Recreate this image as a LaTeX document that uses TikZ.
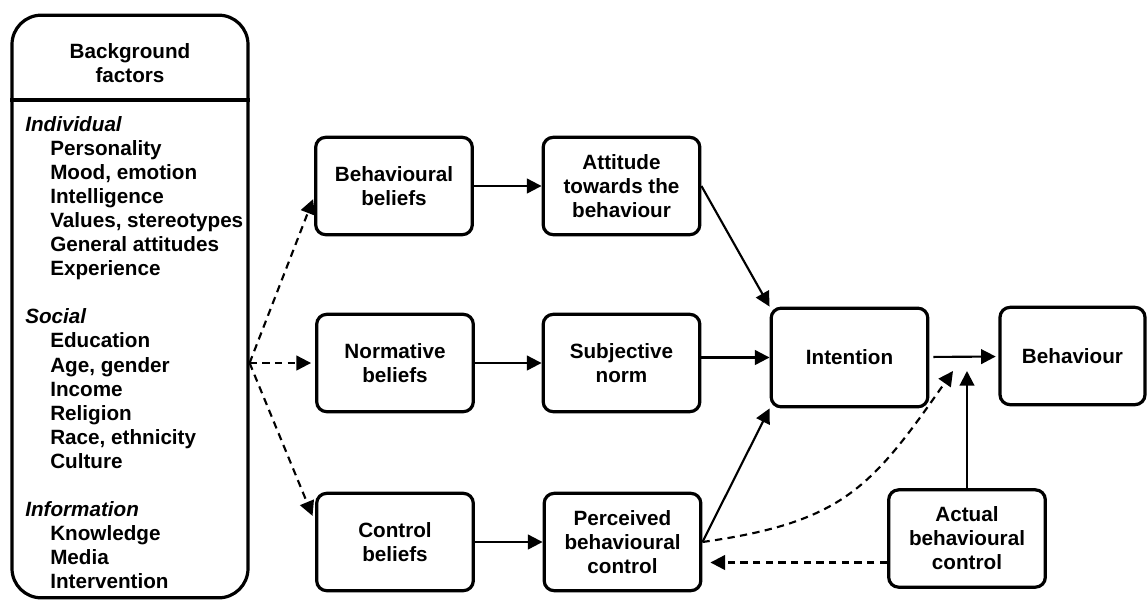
\documentclass[tikz,border=0pt]{standalone}
\usepackage{fontspec}
\setmainfont{Liberation Sans}
\usetikzlibrary{arrows.meta}

\tikzset{
  box/.style={draw, line width=2.4pt, rounded corners=7.5pt, align=center,
              minimum width=117.5pt, minimum height=73pt, inner sep=2pt},
  listtext/.style={anchor=base west, inner sep=0pt},
  link/.style={line width=1.6pt, -{Triangle[length=11pt,width=11pt]}},
  maybe/.style={link, dash pattern=on 5.5pt off 4pt},
}

\begin{document}
\begin{tikzpicture}[x=0.75pt, y=-0.75pt,
        font=\fontsize{15.5}{18}\selectfont\bfseries,
    ]
    \useasboundingbox (0,0) rectangle (1147,601);

    % background factors
    \node[draw, line width=2.4pt, rounded corners=22pt, minimum width=177pt,
          minimum height=437pt] (bg) at (130,306.5) {};
    \node[align=center] (hd) at (130,63) {Background\\factors};
    \coordinate (div) at (130,100);
    \draw[line width=2.4pt] (bg.west |- div) -- (bg.east |- div);

    \node[listtext] (grp1) at (25,131) {\textit{Individual}};
    \node[listtext] (grp2) at (25,{131+24.1*8}) {\textit{Social}};
    \node[listtext] (grp3) at (25,{131+24.1*16}) {\textit{Information}};
    \foreach \k/\t in {1/Personality, 2/{Mood, emotion}, 3/Intelligence,
        4/{Values, stereotypes}, 5/General attitudes, 6/Experience,
        9/Education, 10/{Age, gender}, 11/Income, 12/Religion,
        13/{Race, ethnicity}, 14/Culture,
        17/Knowledge, 18/Media, 19/Intervention}
        \node[listtext] (item\k) at (50,{131+24.1*\k}) {\t};

    % model
    \node[box] (bb)  at (394,186)    {Behavioural\\beliefs};
    \node[box] (nb)  at (395,363)    {Normative\\beliefs};
    \node[box] (cb)  at (395,542)    {Control\\beliefs};
    \node[box] (att) at (621.5,186)  {Attitude\\towards the\\behaviour};
    \node[box] (sn)  at (621.5,363)  {Subjective\\norm};
    \node[box] (pbc) at (622.5,542)  {Perceived\\behavioural\\control};
    \node[box, minimum height=74pt] (int) at (849.5,357.5) {Intention};
    \node[box, minimum width=108.75pt] (beh) at (1072.5,356) {Behaviour};
    \node[box] (abc) at (967,538.5)  {Actual\\behavioural\\control};

    \coordinate (fan) at (bg.east |- nb.west);
    \coordinate (dtip) at (953,371);
    \coordinate (abcout) at ([yshift=-18pt]abc.west);

    \draw[maybe, shorten >=2pt] (fan) -- ([yshift=-8pt]bb.west);
    \draw[maybe, shorten >=3pt] (fan) -- (nb.west);
    \draw[maybe, shorten >=5pt] (fan) -- ([yshift=15pt]cb.west);

    \draw[link] (bb) -- (att);
    \draw[link] (nb) -- (sn);
    \draw[link] (cb) -- (pbc);
    \draw[link] (att.east) -- (int.north west);
    \draw[link] (sn.east |- int) -- (int.west);
    \draw[link] (pbc.east) -- (int.south west);
    \draw[link, shorten <=3pt, shorten >=2pt] (int) -- (beh);
    \draw[link] (abc.north) -- (abc.north |- dtip);
    \draw[maybe] (pbc.east) to[out=8, in=235, looseness=1.2] (dtip);
    \draw[maybe, shorten >=6pt] (abcout) -- (abcout -| pbc.east);
\end{tikzpicture}
\end{document}
